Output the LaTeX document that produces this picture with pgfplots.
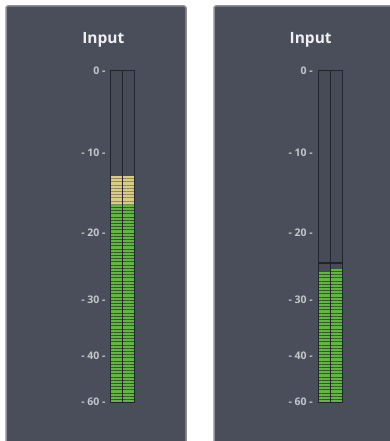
\documentclass[border=0pt]{standalone}
\usepackage{pgfplots}
\pgfplotsset{compat=1.18}
\usepackage{fontspec}
\setmainfont{Open Sans}
\usetikzlibrary{patterns.meta}
\definecolor{panel}{HTML}{4A4E5B}
\definecolor{meterbg}{HTML}{474B57}
\definecolor{meterline}{HTML}{22242A}
\definecolor{edge}{HTML}{8E9095}
\definecolor{tickcol}{HTML}{C4C6CC}
\definecolor{titlecol}{HTML}{F0F0F2}
\definecolor{grn}{HTML}{66B24B}
\definecolor{grnline}{HTML}{2E5A28}
\definecolor{ylw}{HTML}{D8CB8C}
\definecolor{ylwline}{HTML}{8F865A}
\pgfplotsset{
  meter/.style={
    scale only axis, width=24.3bp, height=331bp, anchor=south west,
    xmin=0, xmax=2, ymin=-60, ymax=0,
    y coord trafo/.code={\pgfmathparse{(##1>=-10) ? (249+(##1+10)*8.2) : ((##1>=-20) ? (169+(##1+20)*8) : ((##1>=-30) ? (102+(##1+30)*6.7) : ((##1>=-40) ? (46+(##1+40)*5.6) : ((##1+60)*2.3))))}},
    xtick=\empty,
    ytick={0,-10,-20,-30,-40,-60},
    yticklabels={0 -,- 10 -,- 20 -,- 30 -,- 40 -,- 60 -},
    major tick length=0pt,
    /pgf/number format/assume math mode=true,
    yticklabel style={font=\bfseries\fontsize{10.5bp}{12bp}\selectfont, text=tickcol, inner sep=0pt, xshift=-5bp},
    axis line style={meterline, line width=1bp},
    axis background/.style={fill=meterbg},
    axis on top,
    title=Input,
    title style={font=\bfseries\fontsize{15.5bp}{19bp}\selectfont, text=titlecol, at={(0.5,1)}, anchor=center, yshift=25bp, xshift=-19.5bp},
  },
  seg/.style={draw=none, fill=#1, postaction={pattern={Lines[angle=0,distance=3.2bp,line width=0.7bp]}, pattern color=#1line}},
}
\begin{document}
\begin{tikzpicture}
\useasboundingbox (0,0) rectangle (390bp,441bp);
\fill[white] (0,0) rectangle (390bp,441bp);
\begin{scope}
\clip (0,0) rectangle (390bp,441bp);
\filldraw[fill=panel, draw=edge, line width=1.5bp, rounded corners=2bp] (6bp,-10bp) rectangle (186bp,435bp);
\filldraw[fill=panel, draw=edge, line width=1.5bp, rounded corners=2bp] (214bp,-10bp) rectangle (400bp,435bp);
\end{scope}
% left panel
\begin{axis}[meter, at={(110.7bp,39bp)}]
\addplot[seg=grn] coordinates {(0,-60) (1,-60) (1,-16.4) (0,-16.4)} -- cycle;
\addplot[seg=grn] coordinates {(1,-60) (2,-60) (2,-16.4) (1,-16.4)} -- cycle;
\addplot[seg=ylw] coordinates {(0,-16.4) (1,-16.4) (1,-12.9) (0,-12.9)} -- cycle;
\addplot[seg=ylw] coordinates {(1,-16.4) (2,-16.4) (2,-12.9) (1,-12.9)} -- cycle;
\addplot[meterline, line width=1bp] coordinates {(1,-60) (1,0)};
\end{axis}
% right panel
\begin{axis}[meter, at={(318bp,39bp)}]
\addplot[seg=grn] coordinates {(0,-60) (1,-60) (1,-25.8) (0,-25.8)} -- cycle;
\addplot[seg=grn] coordinates {(1,-60) (2,-60) (2,-25.4) (1,-25.4)} -- cycle;
\addplot[meterline, line width=1.3bp] coordinates {(0,-24.5) (2,-24.5)};
\addplot[meterline, line width=1bp] coordinates {(1,-60) (1,0)};
\end{axis}
\end{tikzpicture}
\end{document}
